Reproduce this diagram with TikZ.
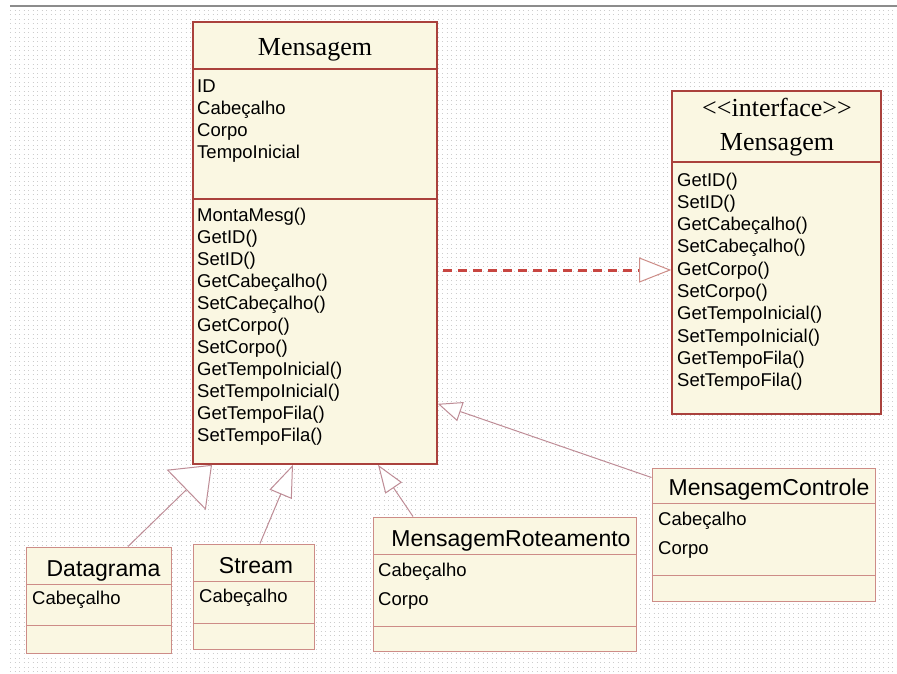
\documentclass[tikz,border=0pt]{standalone}
\usepackage{fontspec}
\setmainfont{Liberation Serif}
\newfontfamily\sansuml{Liberation Sans}
\usetikzlibrary{arrows.meta}
\definecolor{cream}{RGB}{250,247,226}
\definecolor{boxred}{RGB}{170,65,60}
\definecolor{softred}{RGB}{205,140,135}
\definecolor{linkpink}{RGB}{190,140,150}
\definecolor{dashred}{RGB}{200,70,65}
\definecolor{gridgray}{RGB}{205,205,205}
\begin{document}
\begin{tikzpicture}[x=1pt,y=-1pt,
  mainclass/.style={draw=boxred, fill=cream, line width=1.6pt, inner sep=0pt},
  subclass/.style={draw=softred, fill=cream, line width=1pt, inner sep=0pt},
  mainsep/.style={draw=boxred, line width=1.6pt},
  subsep/.style={draw=softred, line width=1pt},
  titleserif/.style={font=\fontsize{26}{30}\selectfont, anchor=base, inner sep=0pt},
  titlesans/.style={font=\sansuml\fontsize{23}{27}\selectfont, anchor=base, inner sep=0pt},
  members/.style={font=\sansuml\fontsize{18.5}{22}\selectfont, anchor=base west, inner sep=0pt},
  inherit/.style={draw=linkpink, line width=1pt},
  realize/.style={draw=dashred, line width=3pt, dash pattern=on 9pt off 6pt}
]
% page and dotted grid paper
\useasboundingbox (0,0) rectangle (897,674);
\fill[white] (0,0) rectangle (897,674);
\foreach \gy in {10,14.5,...,672}
  \draw[gridgray, line width=0.6pt, dash pattern=on 1pt off 3.5pt] (10,\gy) -- (897,\gy);
\draw[black!45, line width=1.5pt] (10,6) -- (897,6);

% class Mensagem
\node[mainclass, minimum width=244, minimum height=442] (msg) at (315,243) {};
\draw[mainsep] ([yshift=-48pt]msg.north west) -- ([yshift=-48pt]msg.north east);
\draw[mainsep] ([yshift=-178pt]msg.north west) -- ([yshift=-178pt]msg.north east);
\node[titleserif] (msg-name) at (315,55.5) {Mensagem};
\foreach \t [count=\i from 0] in {ID, Cabeçalho, Corpo, TempoInicial}
  \node[members] (msg-attr-\i) at (197,92.5+22*\i) {\t};
\foreach \t [count=\i from 0] in {MontaMesg(), GetID(), SetID(), GetCabeçalho(),
    SetCabeçalho(), GetCorpo(), SetCorpo(), GetTempoInicial(), SetTempoInicial(),
    GetTempoFila(), SetTempoFila()}
  \node[members] (msg-op-\i) at (197,221.5+22*\i) {\t};

% interface Mensagem
\node[mainclass, minimum width=209, minimum height=323] (iface) at (776.5,252.5) {};
\draw[mainsep] ([yshift=-72pt]iface.north west) -- ([yshift=-72pt]iface.north east);
\node[titleserif] (iface-stereo) at (777,117) {<\kern0pt<interface>\kern0pt>};
\node[titleserif] (iface-name) at (777,150) {Mensagem};
\foreach \t [count=\i from 0] in {GetID(), SetID(), GetCabeçalho(), SetCabeçalho(),
    GetCorpo(), SetCorpo(), GetTempoInicial(), SetTempoInicial(),
    GetTempoFila(), SetTempoFila()}
  \node[members] (iface-op-\i) at (677,186+22.3*\i) {\t};

% class Datagrama
\node[subclass, minimum width=145, minimum height=106] (dat) at (98.5,600) {};
\draw[subsep] ([yshift=-38pt]dat.north west) -- ([yshift=-38pt]dat.north east);
\draw[subsep] ([yshift=-79pt]dat.north west) -- ([yshift=-79pt]dat.north east);
\node[titlesans] (dat-name) at (103.5,576) {Datagrama};
\node[members] (dat-attr) at (32,604.5) {Cabeçalho};

% class Stream
\node[subclass, minimum width=121, minimum height=105] (str) at (253.5,596.5) {};
\draw[subsep] ([yshift=-38pt]str.north west) -- ([yshift=-38pt]str.north east);
\draw[subsep] ([yshift=-80pt]str.north west) -- ([yshift=-80pt]str.north east);
\node[titlesans] (str-name) at (256,573.5) {Stream};
\node[members] (str-attr) at (199,602.5) {Cabeçalho};

% class MensagemRoteamento
\node[subclass, minimum width=263, minimum height=134] (rot) at (504.5,584) {};
\draw[subsep] ([yshift=-38pt]rot.north west) -- ([yshift=-38pt]rot.north east);
\draw[subsep] ([yshift=-110pt]rot.north west) -- ([yshift=-110pt]rot.north east);
\node[titlesans] (rot-name) at (511,546) {MensagemRoteamento};
\node[members] (rot-attr-0) at (378,576.5) {Cabeçalho};
\node[members] (rot-attr-1) at (378,605.5) {Corpo};

% class MensagemControle
\node[subclass, minimum width=223, minimum height=133] (ctl) at (763.5,534.5) {};
\draw[subsep] ([yshift=-36pt]ctl.north west) -- ([yshift=-36pt]ctl.north east);
\draw[subsep] ([yshift=-108pt]ctl.north west) -- ([yshift=-108pt]ctl.north east);
\node[titlesans] (ctl-name) at (769,495) {MensagemControle};
\node[members] (ctl-attr-0) at (658,525.5) {Cabeçalho};
\node[members] (ctl-attr-1) at (658,554.5) {Corpo};

% generalisations
\draw[inherit, -{Triangle[fill=white, length=36pt, width=56pt]}]
  ([xshift=29.5pt]dat.north) -- ([xshift=-103pt]msg.south);
\draw[inherit, -{Triangle[fill=white, length=32pt, width=24pt]}]
  ([xshift=6.5pt]str.north) -- ([xshift=-22pt]msg.south);
\draw[inherit, -{Triangle[fill=white, length=28pt, width=20pt]}]
  ([xshift=-91.5pt]rot.north) -- ([xshift=63pt]msg.south);
\draw[inherit, -{Triangle[fill=white, length=24pt, width=20pt]}]
  ([yshift=-10pt]ctl.north west) -- ([yshift=61pt]msg.south east);

% realisation of the interface
\draw[realize, -{Triangle[fill=white, color=softred, line width=1pt, length=32pt, width=25pt]}]
  ([xshift=5pt, yshift=-27pt]msg.east) -- ([yshift=-17.5pt]iface.west);
\end{tikzpicture}
\end{document}
